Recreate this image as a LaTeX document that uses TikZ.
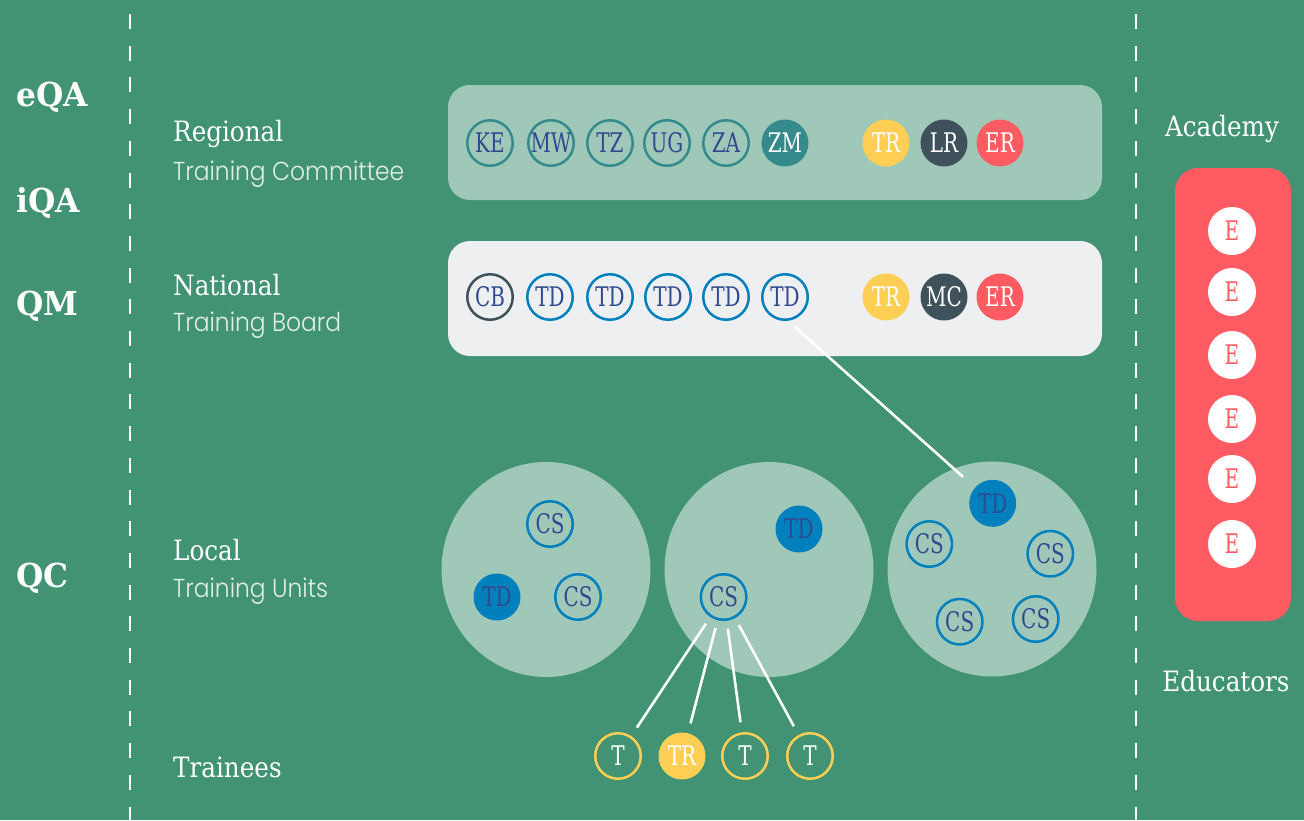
\documentclass[tikz,border=0pt]{standalone}
\usepackage{fontspec}
\usetikzlibrary{shapes.geometric,calc}
\newfontfamily\slab{DejaVu Serif}[FakeStretch=0.88]
\newfontfamily\slabb{DejaVu Serif}[FakeStretch=0.95]
\newfontfamily\circf{DejaVu Serif}[FakeStretch=0.74]
\newfontfamily\lite{Poppins Light}[FakeStretch=0.9]
\definecolor{bg}{HTML}{419374}
\definecolor{panel}{HTML}{A0C8B8}
\definecolor{greyp}{HTML}{EEEFF1}
\definecolor{tealc}{HTML}{358B8B}
\definecolor{navy}{HTML}{2F4B8F}
\definecolor{tdblue}{HTML}{0080BD}
\definecolor{slate}{HTML}{3F525B}
\definecolor{redc}{HTML}{FF5B62}
\definecolor{yell}{HTML}{FFCE54}
\definecolor{subc}{HTML}{E3EEE9}
\tikzset{
  lbl/.style={anchor=base west, inner sep=0pt, text=white},
  head/.style={lbl, font=\slab\fontsize{28}{30}\selectfont},
  subl/.style={lbl, font=\lite\fontsize{26}{28}\selectfont, text=subc},
  qa/.style={lbl, font=\slabb\bfseries\fontsize{33}{35}\selectfont},
  oc/.style={circle, draw=#1, line width=2.5pt, minimum size=45.5pt, inner sep=0pt, text=navy, font=\circf\fontsize{27}{27}\selectfont},
  oc/.default=tdblue,
  fc/.style={circle, fill=#1, minimum size=47pt, inner sep=0pt, text=white, font=\circf\fontsize{27}{27}\selectfont},
  tc/.style={oc=yell, text=white},
  ec/.style={circle, fill=white, minimum size=48pt, inner sep=0pt, text=redc, font=\circf\fontsize{27}{27}\selectfont},
  unit/.style={ellipse, fill=panel, minimum width=209pt, minimum height=215pt, inner sep=0pt},
  link/.style={draw=white, line width=2.6pt},
  sep/.style={draw=white, line width=2.6pt, dash pattern=on 15pt off 16.7pt}
}
\begin{document}
\begin{tikzpicture}[x=1pt,y=-1pt]
\fill[bg] (0,0) rectangle (1304,820);
\useasboundingbox (0,0) rectangle (1304,820);
% separators
\draw[sep] (130,14) -- (130,820);
\draw[sep] (1136,14) -- (1136,820);
% left labels
\node[qa] (eqa) at (16,106) {eQA};
\node[qa] (iqa) at (16,212) {iQA};
\node[qa] (qm) at (16,315) {QM};
\node[qa] (qc) at (16,587) {QC};
\node[head] (hreg) at (173,141.7) {Regional};
\node[subl] (sreg) at (173,180) {Training Committee};
\node[head] (hnat) at (173,295) {National};
\node[subl] (snat) at (173,331.7) {Training Board};
\node[head] (hloc) at (173,560.7) {Local};
\node[subl] (sloc) at (173,597) {Training Units};
\node[head] (htr) at (173,777) {Trainees};
% regional panel
\node[rectangle, rounded corners=22pt, fill=panel, minimum width=654pt, minimum height=115pt, inner sep=0pt] (regp) at (775,142.5) {};
\node[oc=tealc] (ke) at (490,143) {KE};
\node[oc=tealc] (mw) at (551,143) {MW};
\node[oc=tealc] (tz) at (610,143) {TZ};
\node[oc=tealc] (ug) at (667,143) {UG};
\node[oc=tealc] (za) at (726,143) {ZA};
\node[fc=tealc] (zm) at (785,143) {ZM};
\node[fc=yell] (rtr) at (886,143) {TR};
\node[fc=slate] (rlr) at (944,143) {LR};
\node[fc=redc] (rer) at (1000,143) {ER};
% national panel
\node[rectangle, rounded corners=22pt, fill=greyp, minimum width=654pt, minimum height=115pt, inner sep=0pt] (natp) at (775,298.5) {};
\node[oc=slate] (cb) at (490,297) {CB};
\node[oc] (td1) at (550,297) {TD};
\node[oc] (td2) at (610,297) {TD};
\node[oc] (td3) at (668,297) {TD};
\node[oc] (td4) at (726,297) {TD};
\node[oc] (td5) at (785,297) {TD};
\node[fc=yell] (ntr) at (886,297) {TR};
\node[fc=slate] (nmc) at (944,297) {MC};
\node[fc=redc] (ner) at (1000,297) {ER};
% local units
\node[unit] (u1) at (546,569.5) {};
\node[unit] (u2) at (769,569.5) {};
\node[unit] (u3) at (992,569) {};
\node[oc] (u1cs1) at (550,524) {CS};
\node[fc=tdblue, text=navy] (u1td) at (497,597) {TD};
\node[oc] (u1cs2) at (578,597) {CS};
\node[fc=tdblue, text=navy] (u2td) at (799,529) {TD};
\node[oc] (u2cs) at (723.6,597) {CS};
\node[fc=tdblue, text=navy] (u3td) at (992.7,503.3) {TD};
\node[oc] (u3cs1) at (929.3,544) {CS};
\node[oc] (u3cs2) at (1050.3,553.7) {CS};
\node[oc] (u3cs3) at (959.7,621.7) {CS};
\node[oc] (u3cs4) at (1035.7,619) {CS};
% trainees
\node[tc] (t1) at (618,756) {T};
\node[fc=yell] (t2) at (682,756) {TR};
\node[tc] (t3) at (745,756) {T};
\node[tc] (t4) at (810,756) {T};
% connectors
\draw[link, shorten >=16pt] ($(td5.south)+(10,6)$) -- (u3td);
\draw[link, shorten <=8pt, shorten >=10pt] (u2cs) -- (t1);
\draw[link, shorten <=8pt, shorten >=10pt] (u2cs) -- (t2);
\draw[link, shorten <=8pt, shorten >=10pt] (u2cs) -- (t3);
\draw[link, shorten <=8pt, shorten >=10pt] (u2cs) -- (t4);
% educators
\node[anchor=base, inner sep=0pt, text=white, font=\slab\fontsize{28}{30}\selectfont] (acad) at (1222,136) {Academy};
\node[rectangle, rounded corners=23pt, fill=redc, minimum width=116pt, minimum height=453pt, inner sep=0pt] (redp) at (1233,394.5) {};
\node[ec] (e1) at (1232,231) {E};
\node[ec] (e2) at (1232,292) {E};
\node[ec] (e3) at (1232,355) {E};
\node[ec] (e4) at (1232,419) {E};
\node[ec] (e5) at (1232,479) {E};
\node[ec] (e6) at (1232,544) {E};
\node[anchor=base, inner sep=0pt, text=white, font=\slab\fontsize{28}{30}\selectfont] (educ) at (1226,691) {Educators};
\end{tikzpicture}
\end{document}
